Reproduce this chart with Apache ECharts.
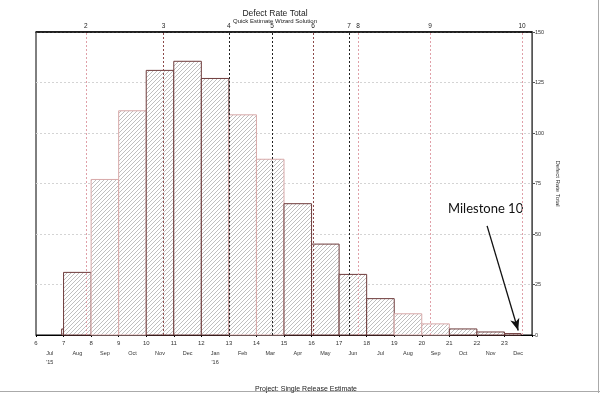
<!DOCTYPE html>
<html><head><meta charset="utf-8">
<script src="https://cdn.jsdelivr.net/npm/echarts@6/dist/echarts.min.js"></script>
<style>html,body{margin:0;padding:0;background:#fff}#c{width:600px;height:393px}</style>
</head><body><div id="c"></div>
<script>
// ---- data ----
const barStart = [6.93, 7, 8, 9, 10, 11, 12, 13, 14, 15, 16, 17, 18, 19, 20, 21, 22, 23];
const barEnd   = [7, 8, 9, 10, 11, 12, 13, 14, 15, 16, 17, 18, 19, 20, 21, 22, 23, 23.6];
const defects  = [3, 31, 77, 111, 131, 135.5, 127, 109, 87, 65, 45, 30, 18, 10.5, 5.5, 3, 1.5, 0.7];
const edgeTone = ['d','d','p','p','d','d','d','p','p','d','d','d','d','p','p','d','d','d'];
const months = ['Jul','Aug','Sep','Oct','Nov','Dec','Jan','Feb','Mar','Apr','May','Jun','Jul','Aug','Sep','Oct','Nov','Dec'];
const years  = ["'15",'','','','','',"'16",'','','','','','','','','','',''];
const milestoneNames = ['2','3','4','5','6','7','8','9','10'];
const milestoneAt    = [7.81, 10.63, 13.0, 14.57, 16.05, 17.36, 17.69, 20.3, 23.64];
const milestoneTone  = ['p','r','k','k','r','k','p','p','p'];
const yTicks = [0, 25, 50, 75, 100, 125, 150];

// hatch pattern
const pc = document.createElement('canvas');
pc.width = 4; pc.height = 4;
const g = pc.getContext('2d');
g.fillStyle = '#fff'; g.fillRect(0,0,4,4);
g.strokeStyle = '#a4a4a4'; g.lineWidth = 0.7;
g.beginPath();
g.moveTo(0,4); g.lineTo(4,0);
g.moveTo(-1,1); g.lineTo(1,-1);
g.moveTo(3,5); g.lineTo(5,3);
g.stroke();
const hatch = {image: pc, repeat: 'repeat'};

const edgeColor = {d: '#6e3b3b', p: '#d8a9a9'};
const msColor = {p: '#e0a0a8', r: '#8c4a4a', k: '#222'};

const barData = barStart.map((s, i) => [s, barEnd[i], defects[i], i]);

const chart = echarts.init(document.getElementById('c'), null, {renderer: 'canvas'});
chart.setOption({
  animation: false,
  backgroundColor: '#fff',
  title: [
    {text: 'Defect Rate Total', subtext: 'Quick Estimate Wizard Solution', left: 270, top: 4, textAlign: 'center', itemGap: 0,
     textStyle: {fontFamily: 'Liberation Sans', fontSize: 8.5, fontWeight: 'normal', color: '#222'},
     subtextStyle: {fontFamily: 'Liberation Sans', fontSize: 6, color: '#222'}},
    {text: 'Project: Single Release Estimate', left: 301, top: 381, textAlign: 'center',
     textStyle: {fontFamily: 'Liberation Sans', fontSize: 7, fontWeight: 'normal', color: '#222'}}
  ],
  grid: {left: 36, right: 68, top: 32, bottom: 58, show: true, borderColor: '#000', borderWidth: 1},
  xAxis: [
    {type: 'value', min: 6, max: 24, interval: 1, position: 'bottom',
     axisLine: {show: true, onZero: false, lineStyle: {color: '#000', width: 1}},
     axisTick: {show: true, length: 2, lineStyle: {color: '#000'}},
     splitLine: {show: false},
     axisLabel: {fontFamily: 'Liberation Sans', fontSize: 6, color: '#333', margin: 5,
       formatter: v => (v >= 24 ? '' : String(v))}},
    {type: 'category', data: months.map((m, i) => years[i] ? m + '\n' + years[i] : m), position: 'bottom', offset: 12,
     boundaryGap: true,
     axisLine: {show: false}, axisTick: {show: false}, splitLine: {show: false},
     axisLabel: {fontFamily: 'Liberation Sans', fontSize: 5.5, color: '#333', margin: 2, lineHeight: 9, interval: 0, verticalAlign: 'top'}},
    {type: 'value', min: 6, max: 24, position: 'top',
     axisLine: {show: true, lineStyle: {color: '#000', width: 1.6}},
     axisTick: {show: false}, axisLabel: {show: false}, splitLine: {show: false}}
  ],
  yAxis: {type: 'value', min: yTicks[0], max: yTicks[yTicks.length - 1], interval: 25, position: 'right',
    name: 'Defect Rate Total', nameLocation: 'middle', nameGap: 18, nameRotate: -90,
    nameTextStyle: {fontFamily: 'Liberation Sans', fontSize: 6, color: '#333'},
    axisLine: {show: true, lineStyle: {color: '#555', width: 1}},
    axisTick: {show: true, length: 3, lineStyle: {color: '#555'}},
    axisLabel: {fontFamily: 'Liberation Sans', fontSize: 5.5, color: '#333', margin: 3},
    splitLine: {show: true, lineStyle: {color: '#d4d4d4', type: [2, 2], width: 1}}},
  series: [
    {type: 'custom', xAxisIndex: 0, data: barData,
     renderItem: (params, api) => {
       const x0 = api.value(0), x1 = api.value(1), v = api.value(2), idx = api.value(3);
       const p0 = api.coord([x0, v]);
       const p1 = api.coord([x1, 0]);
       return {type: 'rect',
         shape: {x: p0[0], y: p0[1], width: p1[0] - p0[0], height: p1[1] - p0[1]},
         style: {fill: hatch, stroke: edgeColor[edgeTone[idx]], lineWidth: 1}};
     },
     z: 2},
    {type: 'line', xAxisIndex: 0, data: [], z: 3,
     markLine: {silent: true, symbol: ['none', 'none'],
       data: milestoneAt.map((x, i) => ({xAxis: x,
         lineStyle: {color: msColor[milestoneTone[i]], type: [2, 2], width: 1},
         label: {show: true, position: 'end', formatter: milestoneNames[i], distance: 2,
           fontFamily: 'Liberation Sans', fontSize: 6.5, color: '#222'}}))}},
    {type: 'line', xAxisIndex: 0, data: [], z: 5,
     markLine: {silent: true, symbol: ['none', 'arrow'], symbolSize: [7, 12],
       lineStyle: {color: '#111', width: 1.3, type: 'solid'}, label: {show: false},
       data: [[{coord: [22.37, 54]}, {coord: [23.5, 2.2]}]]}}
  ],
  graphic: [
    {type: 'text', left: 448, top: 202, style: {text: 'Milestone 10', font: '13px Lato', fill: '#111'}},
    {type: 'line', shape: {x1: 598.5, y1: 0, x2: 598.5, y2: 393}, style: {stroke: '#aaa', lineWidth: 1}},
    {type: 'line', shape: {x1: 0, y1: 391.5, x2: 600, y2: 391.5}, style: {stroke: '#aaa', lineWidth: 1}}
  ]
});
</script></body></html>
